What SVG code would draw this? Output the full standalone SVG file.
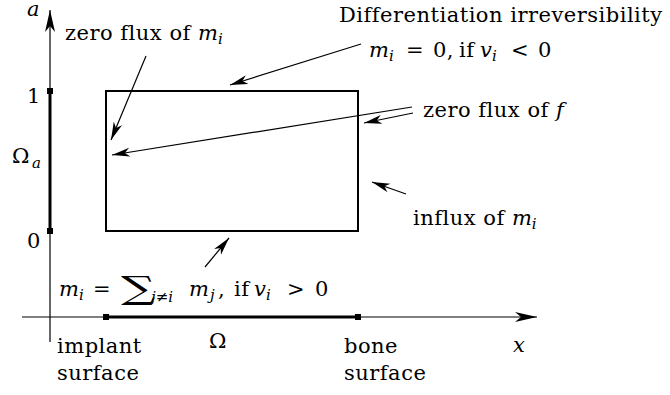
<svg xmlns="http://www.w3.org/2000/svg" width="670" height="395" viewBox="0 0 670 395">
<defs>
<style>
text{font-family:"DejaVu Serif",serif;font-size:21px;letter-spacing:0.5px;fill:#000}
.i{font-style:italic;letter-spacing:0}
.s{font-size:15px}
.thin{stroke:#000;stroke-width:1.2;fill:none}
.thick{stroke:#000;stroke-width:3;fill:none}
</style>
<marker id="ah" viewBox="0 -5 20 10" markerWidth="20" markerHeight="10" refX="18" refY="0" orient="auto" markerUnits="userSpaceOnUse">
<path d="M18,0 L0,-4.5 L5,0 L0,4.5 z" fill="#000"/>
</marker>
<marker id="ax" viewBox="0 -6 24 12" markerWidth="24" markerHeight="12" refX="22" refY="0" orient="auto" markerUnits="userSpaceOnUse">
<path d="M22,0 L0,-5 L6,0 L0,5 z" fill="#000"/>
</marker>
</defs>

<g id="axes">
<line class="thin" x1="50" y1="342" x2="50" y2="10" marker-end="url(#ax)"/>
<line class="thick" x1="50" y1="91" x2="50" y2="231"/>
<line class="thin" x1="22" y1="317" x2="537" y2="317" marker-end="url(#ax)"/>
<line class="thick" x1="106" y1="317" x2="358" y2="317"/>
<rect x="47" y="88" width="6" height="6" fill="#000"/>
<rect x="47" y="228" width="6" height="6" fill="#000"/>
<rect x="103" y="314" width="6" height="6" fill="#000"/>
<rect x="355" y="314" width="6" height="6" fill="#000"/>
<text x="27" y="16" class="i">a</text>
<text x="27" y="103">1</text>
<text x="12" y="163">Ω<tspan class="i s" x="32" y="168">a</tspan></text>
<text x="27" y="248">0</text>
<text x="513" y="352" class="i">x</text>
<text x="209" y="348">Ω</text>
<text x="57" y="353">implant</text>
<text x="57" y="380">surface</text>
<text x="344" y="353">bone</text>
<text x="344" y="380">surface</text>
</g>

<g id="domain">
<rect x="106" y="91" width="252" height="140" fill="none" stroke="#000" stroke-width="2"/>
</g>

<g id="label-zero-flux-m">
<text x="65" y="40">zero flux of <tspan class="i">m</tspan><tspan class="i s" dy="4">i</tspan></text>
</g>
<g id="label-irreversibility">
<text x="339" y="22">Differentiation irreversibility</text>
<text y="57"><tspan class="i" x="369">m</tspan><tspan class="i s" x="389" y="61">i</tspan><tspan x="406" y="57">=</tspan><tspan x="433" y="57">0,</tspan><tspan x="459" y="57">if</tspan><tspan class="i" x="480" y="57">v</tspan><tspan class="i s" x="492" y="61">i</tspan><tspan x="511" y="57">&lt;</tspan><tspan x="538" y="57">0</tspan></text>
</g>
<g id="label-zero-flux-f">
<text x="423" y="117">zero flux of <tspan class="i">f</tspan></text>
</g>
<g id="label-influx">
<text x="413" y="225">influx of <tspan class="i">m</tspan><tspan class="i s" dy="4">i</tspan></text>
</g>
<g id="label-sum">
<text y="296"><tspan class="i" x="59">m</tspan><tspan class="i s" x="79" y="300">i</tspan><tspan x="93" y="296">=</tspan><tspan class="i s" x="151" y="302">j≠i</tspan><tspan class="i" x="189" y="296">m</tspan><tspan class="i s" x="210" y="300">j</tspan><tspan x="218" y="296">,</tspan><tspan x="234" y="296">if</tspan><tspan class="i" x="254" y="296">v</tspan><tspan class="i s" x="266" y="300">i</tspan><tspan x="287" y="296">&gt;</tspan><tspan x="315" y="296">0</tspan></text>
<text transform="matrix(1.5 0 0 1 121 299)" x="0" y="0" style="font-size:32px;letter-spacing:0">∑</text>
</g>

<g id="connectors">
<line class="thin" x1="146" y1="56" x2="111" y2="140" marker-end="url(#ah)"/>
<line class="thin" x1="361" y1="44" x2="230" y2="85" marker-end="url(#ah)"/>
<line class="thin" x1="412" y1="107" x2="112" y2="155" marker-end="url(#ah)"/>
<line class="thin" x1="413" y1="113" x2="364" y2="123" marker-end="url(#ah)"/>
<line class="thin" x1="406" y1="194" x2="372" y2="182" marker-end="url(#ah)"/>
<line class="thin" x1="205" y1="267" x2="229" y2="238" marker-end="url(#ah)"/>
</g>
</svg>
